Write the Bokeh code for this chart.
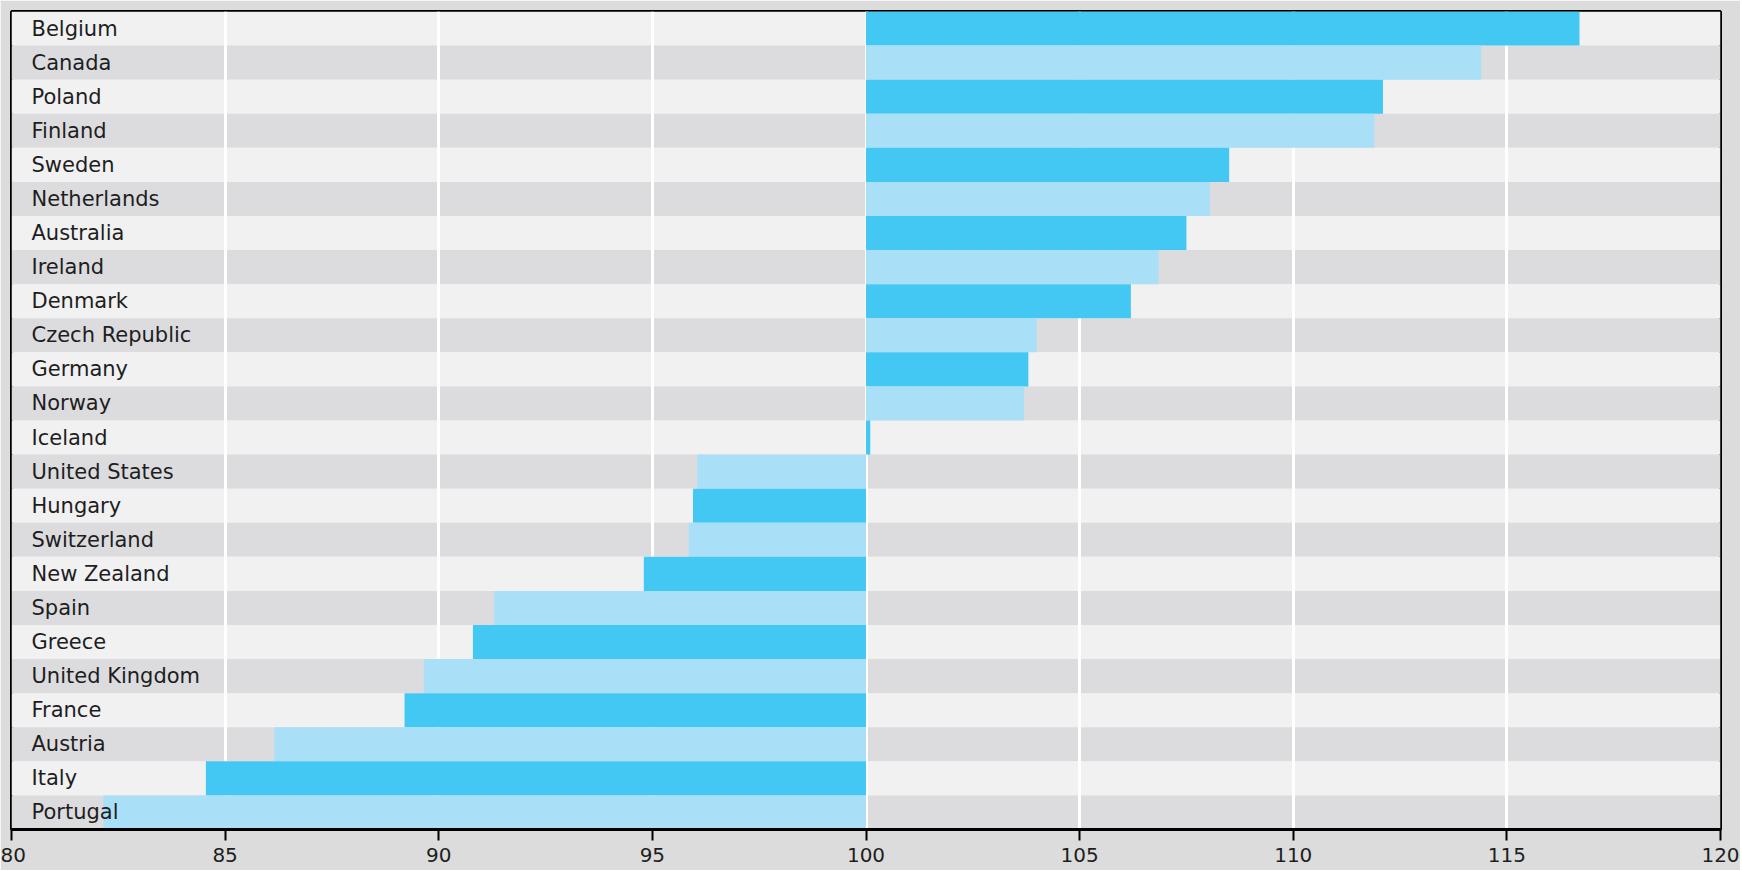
from bokeh.plotting import figure
from bokeh.models import FactorRange, Range1d, FixedTicker, ColumnDataSource
from bokeh.core.properties import value
from bokeh.embed import file_html
from bokeh.resources import INLINE

countries = ["Belgium", "Canada", "Poland", "Finland", "Sweden", "Netherlands",
             "Australia", "Ireland", "Denmark", "Czech Republic", "Germany", "Norway",
             "Iceland", "United States", "Hungary", "Switzerland", "New Zealand",
             "Spain", "Greece", "United Kingdom", "France", "Austria", "Italy", "Portugal"]
values = [116.7, 114.4, 112.1, 111.9, 108.5, 108.05,
          107.5, 106.85, 106.2, 104.0, 103.8, 103.7,
          100.1, 96.05, 95.95, 95.85, 94.8,
          91.3, 90.8, 89.65, 89.2, 86.15, 84.55, 82.15]
baseline = 100
x_ticks = [80, 85, 90, 95, 100, 105, 110, 115, 120]

DARK_BAR = "#43c7f3"
LIGHT_BAR = "#aadff8"
ROW_LIGHT = "#f1f1f2"
ROW_DARK = "#dcdcdf"
PAGE_BG = "#dcdcdc"

n = len(countries)
bar_colors = [DARK_BAR if i % 2 == 0 else LIGHT_BAR for i in range(n)]
row_colors = [ROW_LIGHT if i % 2 == 0 else ROW_DARK for i in range(n)]

xmin, xmax = x_ticks[0], x_ticks[-1]

src = ColumnDataSource(dict(
    country=countries,
    val=values,
    base=[baseline] * n,
    bar_color=bar_colors,
    row_color=row_colors,
    row_left=[xmin] * n,
    row_right=[xmax] * n,
    label_x=[xmin] * n,
))

p = figure(
    y_range=FactorRange(factors=list(reversed(countries)), range_padding=0),
    x_range=Range1d(xmin, xmax),
    frame_width=1709, frame_height=818,
    min_border_left=11, min_border_top=11, min_border_right=20, min_border_bottom=41,
    output_backend="svg", toolbar_location=None,
    background_fill_color=ROW_LIGHT, border_fill_color=PAGE_BG,
)

# row stripes (below grid)
p.hbar(y="country", left="row_left", right="row_right", height=1.0, source=src,
       fill_color="row_color", line_color=None, level="image")

# bars
p.hbar(y="country", left="base", right="val", height=1.0, source=src,
       fill_color="bar_color", line_color=None)

# labels
p.text(x="label_x", y="country", text="country", source=src,
       x_offset=20, text_baseline="middle", text_align="left",
       text_font=value("DejaVu Sans"), text_font_size="21px", text_color="#1e1e1e")

# grid
p.xgrid.ticker = FixedTicker(ticks=x_ticks)
p.xgrid.grid_line_color = "white"
p.xgrid.grid_line_width = 3
p.ygrid.grid_line_color = None

# axes
p.yaxis.visible = False
ax = p.xaxis[0]
ax.ticker = FixedTicker(ticks=x_ticks)
ax.axis_line_color = "black"
ax.axis_line_width = 3
ax.major_tick_line_color = "black"
ax.major_tick_line_width = 2
ax.major_tick_out = 11
ax.major_tick_in = 0
ax.minor_tick_line_color = None
ax.major_label_standoff = 7
ax.major_label_text_font = "DejaVu Sans"
ax.major_label_text_font_size = "20px"
ax.major_label_text_color = "#1e1e1e"

p.outline_line_color = "black"
p.outline_line_width = 3

html = file_html(p, INLINE).replace("<body>", '<body style="background:%s;">' % PAGE_BG, 1)
open("out.html", "w").write(html)
